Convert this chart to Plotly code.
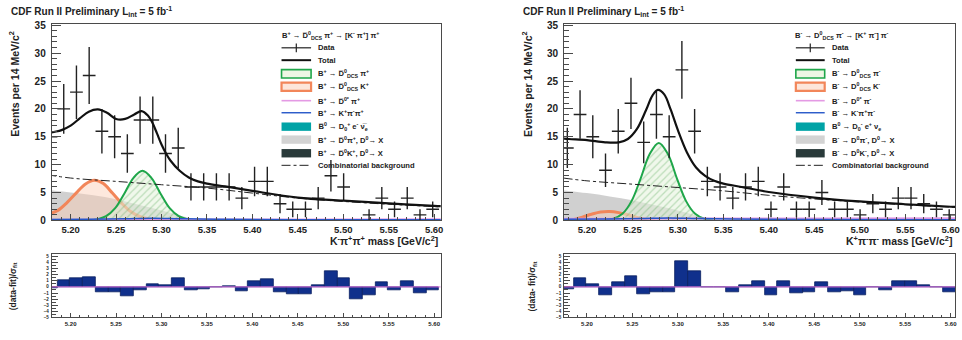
import numpy as np
import plotly.graph_objects as go

# ---------------- data ----------------
BIN_CENTERS = [5.1784, 5.1924, 5.2064, 5.2204, 5.2344, 5.2484, 5.2624, 5.2764, 5.2904, 5.3044,
               5.3184, 5.3324, 5.3464, 5.3604, 5.3744, 5.3884, 5.4024, 5.4164, 5.4304, 5.4444,
               5.4584, 5.4724, 5.4864, 5.5004, 5.5144, 5.5284, 5.5424, 5.5564, 5.5704, 5.5844, 5.5984]
BIN_WIDTH = 0.014

LEFT_COUNTS = [15, 20, 23, 26, 16, 15, 12, 18, 18, 12, 13, 6, 6, 6, 6, 4, 7, 7, 3, 2, 2, 4, 8, 6, 0, 1, 4, 2, 4, 1, 2]
RIGHT_COUNTS = [13, 19, 15, 9, 16, 21, 14, 19, 15, 27, 16, 7, 6, 4, 6, 7, 2, 6, 2, 2, 5, 2, 2, 1, 3, 2, 4, 4, 3, 2, 1]

LEFT_RESID = [-0.2, 1.1, 1.4, 1.6, -0.9, -0.9, -1.6, -0.5, 0.5, 0.2, 1.5, -0.6, -0.4, -0.1, 0.05, -0.7,
              1.0, 1.2, -0.8, -1.2, -1.2, 0.2, 2.5, 1.5, -2.0, -1.3, 0.7, -0.6, 1.0, -1.1, -0.5]
RIGHT_RESID = [-0.4, 1.4, 0.4, -1.3, 0.8, 1.8, -1.2, -0.9, -0.9, 4.2, 2.6, 0.0, -0.05, -0.8, 0.3, 1.0,
               -1.3, 0.9, -1.0, -0.9, 0.8, -0.8, -0.7, -1.3, 0.0, -0.5, 0.9, 1.0, 0.2, -0.1, -0.8]

LEFT_TOTAL_X = [5.175, 5.18, 5.19, 5.20, 5.21, 5.22, 5.23, 5.24, 5.25, 5.26, 5.27, 5.278, 5.285, 5.29,
                5.295, 5.30, 5.305, 5.31, 5.32, 5.33, 5.34, 5.35, 5.37, 5.40, 5.45, 5.50, 5.55, 5.60, 5.61]
LEFT_TOTAL_Y = [15.5, 15.8, 16.2, 17.0, 18.3, 19.5, 19.9, 19.3, 18.2, 18.2, 19.0, 19.6, 18.8, 17.5,
                15.6, 13.6, 12.0, 10.7, 8.9, 7.7, 7.0, 6.6, 6.1, 5.3, 4.1, 3.55, 3.05, 2.6, 2.55]
RIGHT_TOTAL_X = [5.174, 5.18, 5.20, 5.22, 5.235, 5.245, 5.255, 5.265, 5.272, 5.278, 5.285, 5.292, 5.30,
                 5.31, 5.32, 5.33, 5.34, 5.35, 5.37, 5.40, 5.45, 5.50, 5.55, 5.60, 5.61]
RIGHT_TOTAL_Y = [14.7, 14.6, 14.4, 14.0, 14.0, 14.6, 16.4, 19.8, 22.4, 23.4, 22.6, 19.9, 16.2,
                 12.2, 9.5, 8.0, 7.1, 6.6, 6.0, 5.1, 4.1, 3.4, 2.9, 2.45, 2.4]

COMB_X = [5.174, 5.20, 5.25, 5.30, 5.35, 5.40, 5.45, 5.50, 5.55, 5.61]
LEFT_COMB_Y = [8.2, 7.6, 7.0, 6.4, 5.8, 4.9, 4.0, 3.4, 2.9, 2.4]
RIGHT_COMB_Y = [7.6, 7.1, 6.5, 5.9, 5.3, 4.5, 3.85, 3.3, 2.8, 2.3]

SIG_X = [5.219, 5.229, 5.239, 5.249, 5.259, 5.269, 5.279, 5.289, 5.299, 5.309, 5.319, 5.329, 5.339]
LEFT_SIG_Y = [0, 0.19, 0.75, 2.2, 4.8, 7.6, 8.9, 7.6, 4.8, 2.2, 0.75, 0.19, 0]
RIGHT_SIG_Y = [0, 0.29, 1.18, 3.46, 7.5, 11.9, 13.9, 11.9, 7.5, 3.46, 1.18, 0.29, 0]

LEFT_DK_X = [5.175, 5.186, 5.196, 5.206, 5.216, 5.226, 5.236, 5.246, 5.256, 5.266, 5.276, 5.286, 5.296, 5.306]
LEFT_DK_Y = [1.1, 1.8, 3.2, 4.9, 6.5, 7.2, 6.6, 4.9, 3.1, 1.6, 0.7, 0.25, 0.07, 0]
RIGHT_DK_X = [5.185, 5.195, 5.205, 5.215, 5.225, 5.235, 5.245, 5.255, 5.265, 5.275]
RIGHT_DK_Y = [0.15, 0.6, 1.1, 1.5, 1.6, 1.4, 1.0, 0.55, 0.2, 0.03]

DSTAR_X = [5.174, 5.20, 5.225, 5.25, 5.275, 5.30, 5.32, 5.335, 5.345]
LEFT_DSTAR_Y = [5.5, 5.0, 4.5, 3.8, 2.8, 1.8, 0.9, 0.3, 0]
RIGHT_DSTAR_Y = [5.4, 4.9, 4.3, 3.6, 2.7, 1.8, 0.9, 0.3, 0]

PINK_X = [5.174, 5.25, 5.35, 5.45, 5.61]
LEFT_PINK_Y = [0.1, 0.12, 0.15, 0.18, 0.2]
RIGHT_PINK_Y = [0.3, 0.3, 0.35, 0.35, 0.4]

BLUE_X = [5.174, 5.22, 5.26, 5.29, 5.32, 5.36, 5.45, 5.61]
LEFT_BLUE_Y = [0.15, 0.2, 0.3, 0.4, 0.3, 0.2, 0.12, 0.1]
RIGHT_BLUE_Y = [0.2, 0.25, 0.35, 0.45, 0.35, 0.25, 0.15, 0.1]

X_TICKS = [5.20, 5.25, 5.30, 5.35, 5.40, 5.45, 5.50, 5.55, 5.60]
Y_TICKS = [0, 5, 10, 15, 20, 25, 30, 35]
R_TICKS = [-5, -4, -3, -2, -1, 0, 1, 2, 3, 4, 5]

LEFT_LEGEND = [
    "<b>B<sup>+</sup> → D̅<sup>0</sup><sub>DCS</sub> π<sup>+</sup> → [K<sup>-</sup> π<sup>+</sup>] π<sup>+</sup></b>",
    "Data", "Total",
    "B<sup>+</sup> → D̅<sup>0</sup><sub>DCS</sub> π<sup>+</sup>",
    "B<sup>+</sup> → D̅<sup>0</sup><sub>DCS</sub> K<sup>+</sup>",
    "B<sup>+</sup> → D̅<sup>0*</sup> π<sup>+</sup>",
    "B<sup>+</sup> → K<sup>+</sup>π<sup>-</sup>π<sup>+</sup>",
    "B̅<sup>0</sup> → D<sub>0</sub><sup>+</sup> e<sup>-</sup> ν̅<sub>e</sub>",
    "B<sup>+</sup> → D̅<sup>0</sup>π<sup>+</sup>, D<sup>0</sup>→ X",
    "B<sup>+</sup> → D̅<sup>0</sup>K<sup>+</sup>, D<sup>0</sup>→ X",
    "Combinatorial background",
]
RIGHT_LEGEND = [
    "<b>B<sup>-</sup> → D<sup>0</sup><sub>DCS</sub> π<sup>-</sup> → [K<sup>+</sup> π<sup>-</sup>] π<sup>-</sup></b>",
    "Data", "Total",
    "B<sup>-</sup> → D<sup>0</sup><sub>DCS</sub> π<sup>-</sup>",
    "B<sup>-</sup> → D<sup>0</sup><sub>DCS</sub> K<sup>-</sup>",
    "B<sup>-</sup> → D<sup>0*</sup> π<sup>-</sup>",
    "B<sup>-</sup> → K<sup>-</sup>π<sup>+</sup>π<sup>-</sup>",
    "B<sup>0</sup> → D<sub>0</sub><sup>-</sup> e<sup>+</sup> ν<sub>e</sub>",
    "B<sup>-</sup> → D<sup>0</sup>π<sup>-</sup>, D<sup>0</sup>→ X",
    "B<sup>-</sup> → D<sup>0</sup>K<sup>-</sup>, D<sup>0</sup>→ X",
    "Combinatorial background",
]

# ---------------- styling ----------------
W, H = 962, 340
FONT = "Liberation Sans, Arial, sans-serif"
TXT = "#222222"
FRAME = "#4a4a4a"


def px(x):
    return x / W


def py(y):
    return 1 - y / H


C_GREEN = "#1fa64a"
C_ORANGE = "#f2865a"
C_GRAY = "rgba(200,200,200,0.85)"
C_PINK = "#e49ae4"
C_BLUE = "#2456c8"
C_TEAL = "#00a3a6"
C_DARK = "#293a3a"
C_RES = "#10308c"

fig = go.Figure()

panels = [
    dict(xa="x", ya="y", xr="x2", yr="y2", counts=LEFT_COUNTS, resid=LEFT_RESID,
         tot=(LEFT_TOTAL_X, LEFT_TOTAL_Y), comb=LEFT_COMB_Y, sig=LEFT_SIG_Y,
         dk=(LEFT_DK_X, LEFT_DK_Y), dstar=LEFT_DSTAR_Y, pink=LEFT_PINK_Y, blue=LEFT_BLUE_Y),
    dict(xa="x3", ya="y3", xr="x4", yr="y4", counts=RIGHT_COUNTS, resid=RIGHT_RESID,
         tot=(RIGHT_TOTAL_X, RIGHT_TOTAL_Y), comb=RIGHT_COMB_Y, sig=RIGHT_SIG_Y,
         dk=(RIGHT_DK_X, RIGHT_DK_Y), dstar=RIGHT_DSTAR_Y, pink=RIGHT_PINK_Y, blue=RIGHT_BLUE_Y),
]

for p in panels:
    xa, ya = p["xa"], p["ya"]
    fig.add_trace(go.Scatter(x=DSTAR_X, y=p["dstar"], xaxis=xa, yaxis=ya, mode="lines",
                             line=dict(width=0, shape="spline"), fill="tozeroy",
                             fillcolor=C_GRAY, hoverinfo="skip"))
    fig.add_trace(go.Scatter(x=p["dk"][0], y=p["dk"][1], xaxis=xa, yaxis=ya, mode="lines",
                             line=dict(color=C_ORANGE, width=3, shape="spline"), fill="tozeroy",
                             fillcolor="rgba(250,205,180,0.45)", hoverinfo="skip"))
    fig.add_trace(go.Scatter(x=SIG_X, y=p["sig"], xaxis=xa, yaxis=ya, mode="lines",
                             line=dict(color=C_GREEN, width=2, shape="spline"), fill="tozeroy",
                             fillpattern=dict(shape="/", fgcolor="rgba(110,180,110,0.8)",
                                              bgcolor="rgba(228,242,218,0.55)", size=5, solidity=0.25),
                             hoverinfo="skip"))
    fig.add_trace(go.Scatter(x=PINK_X, y=p["pink"], xaxis=xa, yaxis=ya, mode="lines",
                             line=dict(color=C_PINK, width=2, shape="spline"), hoverinfo="skip"))
    fig.add_trace(go.Scatter(x=BLUE_X, y=p["blue"], xaxis=xa, yaxis=ya, mode="lines",
                             line=dict(color=C_BLUE, width=1.5, shape="spline"), hoverinfo="skip"))
    fig.add_trace(go.Scatter(x=COMB_X, y=p["comb"], xaxis=xa, yaxis=ya, mode="lines",
                             line=dict(color="#222", width=1, dash="dashdot", shape="spline"),
                             hoverinfo="skip"))
    cnt = np.array(p["counts"], dtype=float)
    yv = [c if c > 0 else None for c in p["counts"]]
    err = np.sqrt(cnt)
    fig.add_trace(go.Scatter(x=BIN_CENTERS, y=yv, xaxis=xa, yaxis=ya, mode="markers",
                             marker=dict(size=1, color="#222"),
                             error_y=dict(type="data", array=err, width=0, thickness=1.4, color="#222"),
                             error_x=dict(type="constant", value=BIN_WIDTH / 2, width=0, thickness=1.4,
                                          color="#222"),
                             hoverinfo="skip"))
    fig.add_trace(go.Scatter(x=p["tot"][0], y=p["tot"][1], xaxis=xa, yaxis=ya, mode="lines",
                             line=dict(color="#111", width=2.2, shape="spline"), hoverinfo="skip"))
    fig.add_trace(go.Bar(x=BIN_CENTERS, y=p["resid"], xaxis=p["xr"], yaxis=p["yr"], width=BIN_WIDTH,
                         marker=dict(color=C_RES, line=dict(color="#0a1f60", width=0.8)),
                         hoverinfo="skip"))

# ---------------- axes ----------------
LX = [px(52), px(443)]
RX = [px(567), px(960)]
MAIN_Y = [py(222.3), py(20.7)]
RES_Y = [py(322), py(257)]
LRANGE = [5.1792, 5.6072]
RRANGE = [5.1748, 5.6048]


def xaxis_style(domain, rng, anchor, size, ticklen):
    return dict(domain=domain, range=rng, anchor=anchor, showline=True, mirror=True,
                linecolor=FRAME, linewidth=1, ticks="inside", ticklen=ticklen, tickcolor=FRAME,
                tickvals=X_TICKS, ticktext=[f"{v:.2f}" for v in X_TICKS],
                tickfont=dict(family=FONT, size=size, color=TXT, weight="bold"),
                minor=dict(dtick=0.01, tick0=5.2, ticks="inside", ticklen=ticklen / 2, tickcolor=FRAME),
                showgrid=False, zeroline=False, fixedrange=True)


def ymain_style(domain, anchor):
    return dict(domain=domain, range=[0, 35.2], anchor=anchor, showline=True, mirror=True,
                linecolor=FRAME, linewidth=1, ticks="inside", ticklen=9, tickcolor=FRAME,
                tickvals=Y_TICKS, tickfont=dict(family=FONT, size=10, color=TXT, weight="bold"),
                minor=dict(dtick=1, tick0=0, ticks="inside", ticklen=5, tickcolor=FRAME),
                showgrid=False, zeroline=False, fixedrange=True, ticklabelstandoff=3)


def yres_style(domain, anchor):
    return dict(domain=domain, range=[-5.0, 5.35], anchor=anchor, showline=True, mirror=True,
                linecolor=FRAME, linewidth=1, ticks="inside", ticklen=6, tickcolor=FRAME,
                tickvals=R_TICKS, tickfont=dict(family=FONT, size=4.5, color=TXT, weight="bold"),
                minor=dict(dtick=0.5, ticks="inside", ticklen=4, tickcolor=FRAME),
                showgrid=False, zeroline=False, fixedrange=True, ticklabelstandoff=1)


fig.update_layout(
    xaxis=xaxis_style(LX, LRANGE, "y", 9.5, 6),
    yaxis=ymain_style(MAIN_Y, "x"),
    xaxis2=xaxis_style(LX, LRANGE, "y2", 6, 4),
    yaxis2=yres_style(RES_Y, "x2"),
    xaxis3=xaxis_style(RX, RRANGE, "y3", 9.5, 6),
    yaxis3=ymain_style(MAIN_Y, "x3"),
    xaxis4=xaxis_style(RX, RRANGE, "y4", 6, 4),
    yaxis4=yres_style(RES_Y, "x4"),
)

shapes = []
annotations = []

for xr, yr, rng in (("x2", "y2", LRANGE), ("x4", "y4", RRANGE)):
    shapes.append(dict(type="line", xref=xr, yref=yr, x0=rng[0], x1=rng[1], y0=0, y1=0,
                       line=dict(color="#e070e0", width=1), layer="above"))


def ann(text, x, y, size, xanchor="left", yanchor="middle", angle=0):
    annotations.append(dict(text=text, x=px(x), y=py(y), xref="paper", yref="paper",
                            xanchor=xanchor, yanchor=yanchor, showarrow=False, textangle=angle,
                            font=dict(family=FONT, size=size, color=TXT)))


for x0 in (9, 524):
    ann("<b>CDF Run II Preliminary L<sub>int</sub> = 5 fb<sup>-1</sup></b>", x0, 8, 10)
ann("<b>Events per 14 MeV/c<sup>2</sup></b>", 14, 82, 10.5, "center", "middle", -90)
ann("<b>Events per 14 MeV/c<sup>2</sup></b>", 530, 82, 10.5, "center", "middle", -90)
ann("<b>(data-fit)/σ<sub>fit</sub></b>", 13, 290, 8.5, "center", "middle", -90)
ann("<b>(data- fit)/σ<sub>fit</sub></b>", 535, 290, 8.5, "center", "middle", -90)
ann("<b>K<sup>-</sup>π<sup>+</sup>π<sup>+</sup> mass [GeV/c<sup>2</sup>]</b>", 442, 243, 10.5, "right")
ann("<b>K<sup>+</sup>π<sup>-</sup>π<sup>-</sup> mass [GeV/c<sup>2</sup>]</b>", 959, 243, 10.5, "right")

ROWS = [45, 57.7, 71.7, 85, 99.3, 111.7, 126, 139.3, 153.3, 165.7]
LEG_FONT = 7.6


def legend(texts, hx, s0, s1, tx):
    ann(texts[0], hx, 32.3, LEG_FONT)
    for i, t in enumerate(texts[1:]):
        yy = ROWS[i]
        ann("<b>" + t + "</b>", tx, yy, LEG_FONT)
        x0, x1 = px(s0), px(s1)
        y0, y1 = py(yy + 4.3), py(yy - 4.3)
        ymid = py(yy)
        if i == 0:
            shapes.append(dict(type="line", xref="paper", yref="paper", x0=x0, x1=x1, y0=ymid, y1=ymid,
                               line=dict(color="#222", width=1.2)))
            xm = (x0 + x1) / 2
            shapes.append(dict(type="line", xref="paper", yref="paper", x0=xm, x1=xm,
                               y0=py(yy + 4.5), y1=py(yy - 4.5), line=dict(color="#222", width=1.2)))
        elif i == 1:
            shapes.append(dict(type="line", xref="paper", yref="paper", x0=x0, x1=x1, y0=ymid, y1=ymid,
                               line=dict(color="#111", width=2)))
        elif i == 2:
            shapes.append(dict(type="rect", xref="paper", yref="paper", x0=x0, x1=x1, y0=y0, y1=y1,
                               fillcolor="#eef6e4", line=dict(color=C_GREEN, width=1.6)))
        elif i == 3:
            shapes.append(dict(type="rect", xref="paper", yref="paper", x0=x0, x1=x1, y0=y0, y1=y1,
                               fillcolor="#fde6da", line=dict(color=C_ORANGE, width=2.2)))
        elif i == 4:
            shapes.append(dict(type="line", xref="paper", yref="paper", x0=x0, x1=x1, y0=ymid, y1=ymid,
                               line=dict(color=C_PINK, width=1.6)))
        elif i == 5:
            shapes.append(dict(type="line", xref="paper", yref="paper", x0=x0, x1=x1, y0=ymid, y1=ymid,
                               line=dict(color=C_BLUE, width=1.4)))
        elif i in (6, 7, 8):
            col = {6: C_TEAL, 7: "#d3d3d3", 8: C_DARK}[i]
            shapes.append(dict(type="rect", xref="paper", yref="paper", x0=x0, x1=x1, y0=y0, y1=y1,
                               fillcolor=col, line=dict(width=0)))
        else:
            shapes.append(dict(type="line", xref="paper", yref="paper", x0=x0, x1=x1, y0=ymid, y1=ymid,
                               line=dict(color="#222", width=1, dash="dashdot")))


legend(LEFT_LEGEND, 281.5, 283, 312.7, 317.7)
legend(RIGHT_LEGEND, 796.7, 800, 829, 834)

fig.update_layout(width=W, height=H, margin=dict(l=0, r=0, t=0, b=0), paper_bgcolor="white",
                  plot_bgcolor="white", showlegend=False, barmode="overlay", bargap=0,
                  shapes=shapes, annotations=annotations)

fig.write_html("out.html", config={"displayModeBar": False},
               post_script="document.body.style.margin='0';document.body.style.overflow='hidden';")
